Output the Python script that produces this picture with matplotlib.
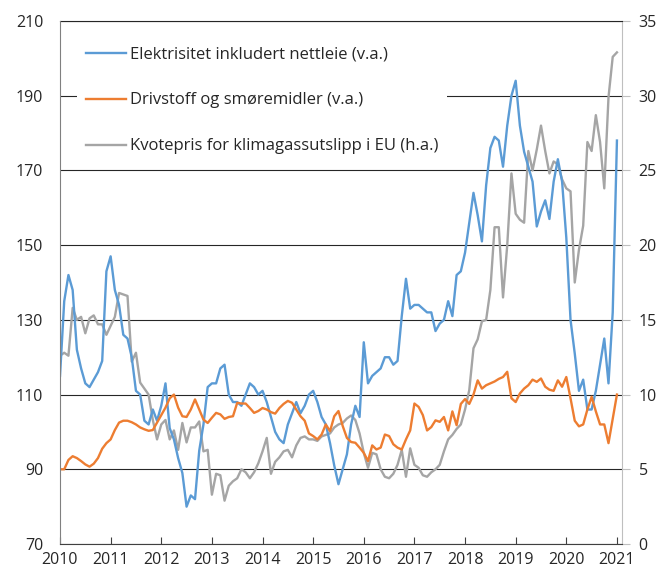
import numpy as np
import matplotlib.pyplot as plt

plt.rcParams['font.family'] = ['Open Sans', 'DejaVu Sans']

# månedlige indekser, jan 2010 - jan 2021
aar = ['2010', '2011', '2012', '2013', '2014', '2015', '2016',
       '2017', '2018', '2019', '2020', '2021']

elektrisitet = [
    115, 135, 142, 138, 122, 117, 113, 112, 114, 116,
    119, 143, 147, 138, 134, 126, 125, 120, 111, 110,
    103, 102, 106, 103, 107, 113, 101, 98, 93, 89,
    80, 83, 82, 95, 102, 112, 113, 113, 117, 118,
    110, 108, 108, 107, 110, 113, 112, 110, 111, 108,
    104, 100, 98, 97, 102, 105, 108, 105, 107, 110,
    111, 108, 104, 102, 97, 91, 86, 90, 94, 102,
    107, 104, 124, 113, 115, 116, 117, 120, 120, 118,
    119, 131, 141, 133, 134, 134, 133, 132, 132, 127,
    129, 130, 135, 131, 142, 143, 148, 156, 164, 158,
    151, 166, 176, 179, 178, 171, 182, 190, 194, 182,
    175, 171, 167, 155, 159, 162, 157, 167, 173, 167,
    152, 130, 121, 111, 114, 106, 106, 111, 118, 125,
    113, 132, 178]

drivstoff = [
    90, 90, 92.5, 93.5, 93, 92.2, 91.3, 90.7, 91.5, 93,
    95.5, 97, 98, 100.5, 102.5, 103, 103, 102.6, 102, 101.2,
    100.7, 100.3, 100.5, 102.5, 104.5, 106.5, 109, 110, 106.5, 104.2,
    104, 106, 108.7, 106, 103.3, 102.4, 103.8, 105.1, 104.7, 103.5,
    104, 104.2, 107.8, 107.6, 107.6, 106.4, 105.1, 105.6, 106.4, 106,
    105.3, 104.9, 106.4, 107.5, 108.3, 107.8, 106, 104.2, 103, 99.6,
    98.9, 98, 99.3, 102, 100.2, 104.2, 105.6, 101.6, 98.4, 97.3,
    97.1, 95.8, 94.4, 92.2, 96.4, 95.3, 95.8, 99.3, 98.9, 96.7,
    95.8, 95.3, 98, 100.4, 107.6, 106.7, 104.5, 100.4, 101.3, 103.1,
    102.7, 104, 100.4, 105.5, 101.8, 107.5, 108.8, 107.5, 110, 113.8,
    111.6, 112.5, 113, 113.5, 114.2, 114.7, 116.1, 109, 108, 110.3,
    111.6, 112.5, 114, 113.4, 114.3, 112.1, 111.3, 111, 113.8, 112.1,
    114.7, 109, 103, 101.5, 102, 106, 109.4, 105.5, 102, 102,
    97, 103.5, 110]

kvotepris = [
    12.6, 12.8, 12.6, 15.8, 15.0, 15.2, 14.1, 15.1, 15.3, 14.7,
    14.7, 14.0, 14.6, 15.2, 16.8, 16.7, 16.6, 12.2, 12.8, 10.8,
    10.4, 10.0, 8.3, 7.0, 8.0, 8.3, 7.0, 7.6, 6.3, 8.1,
    6.8, 7.8, 7.8, 8.2, 6.2, 6.3, 3.3, 4.7, 4.6, 2.9,
    3.9, 4.2, 4.4, 5.0, 4.8, 4.4, 4.8, 5.4, 6.2, 7.1,
    4.7, 5.5, 5.8, 6.2, 6.3, 5.8, 6.6, 7.1, 7.2, 7.0,
    7.0, 6.9, 7.2, 7.3, 7.4, 7.8, 8.0, 8.1, 8.4, 8.6,
    8.3, 7.4, 6.1, 5.1, 6.1, 6.0, 5.0, 4.5, 4.4, 4.7,
    5.3, 6.3, 4.5, 6.4, 5.3, 5.1, 4.6, 4.5, 4.8, 5.0,
    5.3, 6.2, 7.0, 7.3, 7.7, 8.0, 9.0, 10.3, 13.1, 13.7,
    14.9, 15.0, 17.0, 21.2, 21.2, 16.5, 20.0, 24.8, 22.1, 21.7,
    21.5, 26.3, 25.0, 26.4, 28.0, 26.3, 24.8, 25.6, 25.4, 24.4,
    23.8, 23.6, 17.5, 19.7, 21.3, 26.9, 26.3, 28.7, 26.9, 23.8,
    29.9, 32.6, 32.9]

navn = ['Elektrisitet inkludert nettleie (v.a.)',
        'Drivstoff og smøremidler (v.a.)',
        'Kvotepris for klimagassutslipp i EU (h.a.)']

blaa = '#5b9bd5'
oransje = '#ed7d31'
graa = '#a5a5a5'

mnd = np.arange(len(elektrisitet))

fig = plt.figure(figsize=(6.63, 5.76), dpi=100)
ax = fig.add_axes([60 / 663, 32 / 576, 562 / 663, 523 / 576])
ax2 = ax.twinx()

# høyre akse under venstre, rutenett tegnes på høyre akse
ax.set_zorder(ax2.get_zorder() + 1)
ax.patch.set_visible(False)

l3, = ax2.plot(mnd, kvotepris, color=graa, lw=1.7)
l1, = ax.plot(mnd, elektrisitet, color=blaa, lw=1.7)
l2, = ax.plot(mnd, drivstoff, color=oransje, lw=1.7)

ax.set_xlim(0, 133.2)
ax.set_ylim(70, 210)
ax2.set_ylim(0, 35)
ax.set_yticks(np.arange(70, 211, 20))
ax2.set_yticks(np.arange(0, 36, 5))
ax.set_xticks(np.arange(0, 133, 12))
ax.set_xticklabels(aar)

ax2.grid(axis='y', color='#262626', lw=0.8)
ax2.set_axisbelow(True)

for a in (ax, ax2):
    for s in a.spines.values():
        s.set_visible(False)
ax.spines['left'].set_visible(True)
ax.spines['left'].set_color('#808080')
ax.spines['bottom'].set_visible(True)
ax.spines['bottom'].set_color('#404040')
ax2.spines['right'].set_visible(True)
ax2.spines['right'].set_color('#bfbfbf')
ax2.spines['top'].set_visible(True)
ax2.spines['top'].set_color('#262626')
ax2.spines['top'].set_linewidth(0.8)

ax.tick_params(axis='y', length=0, pad=12, labelsize=11.5, labelcolor='#262626')
ax.tick_params(axis='x', direction='in', length=5, color='#404040', pad=6,
               labelsize=11.5, labelcolor='#262626')
ax2.tick_params(axis='y', length=6, color='#bfbfbf', pad=6, labelsize=11.5,
                labelcolor='#262626')

leg = ax.legend([l1, l2, l3], navn, loc='upper left',
                bbox_to_anchor=(0.016, 0.985), fontsize=12,
                handlelength=2.4, handletextpad=0.2, labelspacing=1.8,
                borderpad=0.55, frameon=True, fancybox=False,
                edgecolor='none', facecolor='white', framealpha=1)
for t in leg.get_texts():
    t.set_color('#262626')

fig.savefig('out.png', dpi=100)
